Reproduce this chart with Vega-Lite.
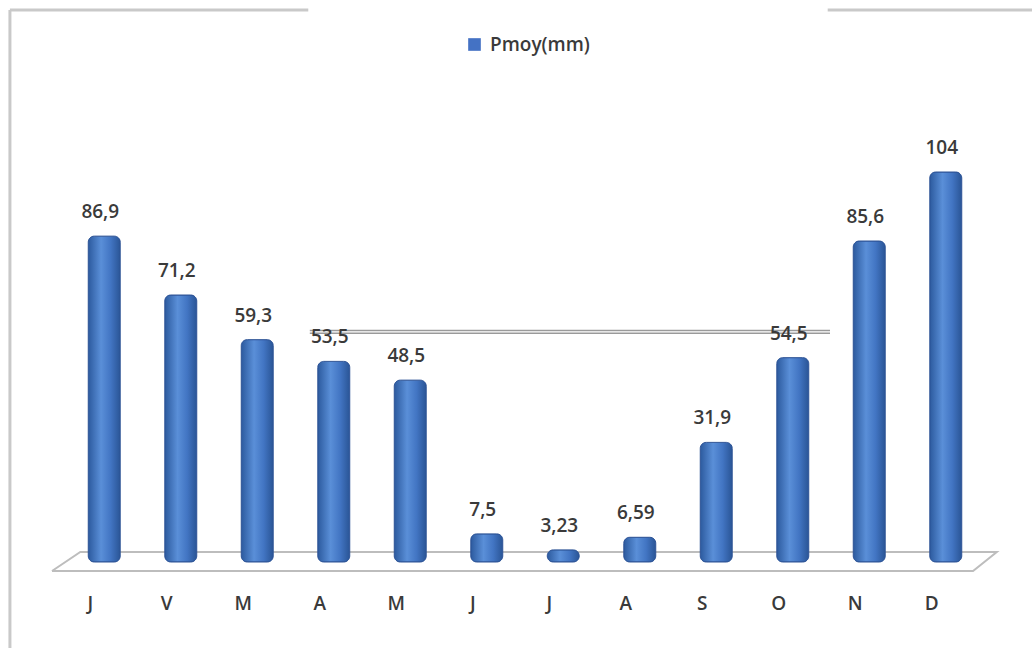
{
  "$schema": "https://vega.github.io/schema/vega-lite/v6.json",
  "autosize": {"type": "none"},
  "width": 918,
  "height": 450,
  "padding": {"left": 52, "top": 112, "right": 62, "bottom": 86},
  "background": "white",
  "config": {
    "view": {"stroke": null},
    "font": "Open Sans",
    "locale": {"number": {"decimal": ",", "thousands": " ", "grouping": [3], "currency": ["", " €"]}}
  },
  "datasets": {
    "pluie": [
      {"cle": "J-1", "p": 86.9, "serie": "Pmoy(mm)"},
      {"cle": "V-2", "p": 71.2, "serie": "Pmoy(mm)"},
      {"cle": "M-3", "p": 59.3, "serie": "Pmoy(mm)"},
      {"cle": "A-4", "p": 53.5, "serie": "Pmoy(mm)"},
      {"cle": "M-5", "p": 48.5, "serie": "Pmoy(mm)"},
      {"cle": "J-6", "p": 7.5, "serie": "Pmoy(mm)"},
      {"cle": "J-7", "p": 3.23, "serie": "Pmoy(mm)"},
      {"cle": "A-8", "p": 6.59, "serie": "Pmoy(mm)"},
      {"cle": "S-9", "p": 31.9, "serie": "Pmoy(mm)"},
      {"cle": "O-10", "p": 54.5, "serie": "Pmoy(mm)"},
      {"cle": "N-11", "p": 85.6, "serie": "Pmoy(mm)"},
      {"cle": "D-12", "p": 104, "serie": "Pmoy(mm)"}
    ],
    "plancher": [
      {"ordre": 1, "ix": -0.5, "v": -2.4},
      {"ordre": 2, "ix": 11.54, "v": -2.4},
      {"ordre": 3, "ix": 11.85, "v": 2.67},
      {"ordre": 4, "ix": -0.13, "v": 2.67},
      {"ordre": 5, "ix": -0.5, "v": -2.4}
    ],
    "cadre": [
      {"type": "bord", "x1": -1.05, "x2": -1.05, "y1": 147.2, "y2": -23},
      {"type": "bord", "x1": -1.05, "x2": 2.85, "y1": 147.2, "y2": 147.2},
      {"type": "bord", "x1": 9.64, "x2": 12.4, "y1": 147.2, "y2": 147.2},
      {"type": "trait", "x1": 2.87, "x2": 9.67, "y1": 61.75, "y2": 61.75},
      {"type": "trait", "x1": 2.87, "x2": 9.67, "y1": 61.0, "y2": 61.0}
    ]
  },
  "resolve": {"scale": {"x": "independent"}},
  "layer": [
    {
      "data": {"name": "plancher"},
      "mark": {"type": "line", "stroke": "#BDBDBD", "strokeWidth": 2, "strokeJoin": "miter"},
      "encoding": {
        "x": {"field": "ix", "type": "quantitative", "scale": {"domain": [-0.5, 11.5], "nice": false, "zero": false}, "axis": null},
        "y": {"field": "v", "type": "quantitative", "scale": {"domain": [0, 120], "nice": false}, "axis": null},
        "order": {"field": "ordre", "type": "quantitative"}
      }
    },
    {
      "data": {"name": "cadre"},
      "transform": [{"filter": "datum.type === 'bord'"}],
      "mark": {"type": "rule", "stroke": "#C9C9C9", "strokeWidth": 3},
      "encoding": {
        "x": {"field": "x1", "type": "quantitative", "scale": {"domain": [-0.5, 11.5], "nice": false, "zero": false}, "axis": null},
        "x2": {"field": "x2"},
        "y": {"field": "y1", "type": "quantitative", "axis": null},
        "y2": {"field": "y2"}
      }
    },
    {
      "data": {"name": "cadre"},
      "transform": [{"filter": "datum.type === 'trait'"}],
      "mark": {"type": "rule", "stroke": "#9A9A9A", "strokeWidth": 1.5},
      "encoding": {
        "x": {"field": "x1", "type": "quantitative", "scale": {"domain": [-0.5, 11.5], "nice": false, "zero": false}, "axis": null},
        "x2": {"field": "x2"},
        "y": {"field": "y1", "type": "quantitative", "axis": null},
        "y2": {"field": "y2"}
      }
    },
    {
      "data": {"name": "pluie"},
      "mark": {"type": "bar", "width": 32, "xOffset": 14, "cornerRadius": 6},
      "encoding": {
        "x": {
          "field": "cle", "type": "nominal", "sort": null,
          "scale": {"paddingInner": 0, "paddingOuter": 0},
          "axis": {
            "title": null, "domain": false, "ticks": false, "labelAngle": 0,
            "labelExpr": "split(datum.value, '-')[0]",
            "labelFont": "Open Sans", "labelFontSize": 19, "labelFontWeight": 600, "labelColor": "#3A3A3A",
            "labelPadding": 32
          }
        },
        "y": {"field": "p", "type": "quantitative", "axis": null},
        "color": {
          "field": "serie", "type": "nominal",
          "scale": {"range": ["#4472C4"]},
          "legend": {
            "title": null, "orient": "none", "legendX": 413, "legendY": -77,
            "symbolType": "square", "symbolSize": 160, "symbolStrokeWidth": 0,
            "labelFont": "Open Sans", "labelFontSize": 19, "labelFontWeight": 600, "labelColor": "#3A3A3A", "labelOffset": 6
          }
        }
      }
    },
    {
      "data": {"name": "pluie"},
      "mark": {
        "type": "bar", "width": 32, "xOffset": 14, "cornerRadius": 6,
        "stroke": "#2F5597", "strokeWidth": 1,
        "fill": {
          "gradient": "linear", "x1": 0, "x2": 1, "y1": 0, "y2": 0,
          "stops": [
            {"offset": 0, "color": "#2C5A9E"},
            {"offset": 0.4, "color": "#5A8FD8"},
            {"offset": 0.7, "color": "#4275C3"},
            {"offset": 1, "color": "#2A5596"}
          ]
        }
      },
      "encoding": {
        "x": {"field": "cle", "type": "nominal", "sort": null, "scale": {"paddingInner": 0, "paddingOuter": 0}, "axis": null},
        "y": {"field": "p", "type": "quantitative", "axis": null}
      }
    },
    {
      "data": {"name": "pluie"},
      "mark": {"type": "text", "dx": 10, "dy": -14, "baseline": "bottom", "font": "Open Sans", "fontSize": 19, "fontWeight": 600, "color": "#3A3A3A"},
      "encoding": {
        "x": {"field": "cle", "type": "nominal", "sort": null, "scale": {"paddingInner": 0, "paddingOuter": 0}, "axis": null},
        "y": {"field": "p", "type": "quantitative", "axis": null},
        "text": {"field": "p", "type": "quantitative", "format": "~g"}
      }
    }
  ]
}
